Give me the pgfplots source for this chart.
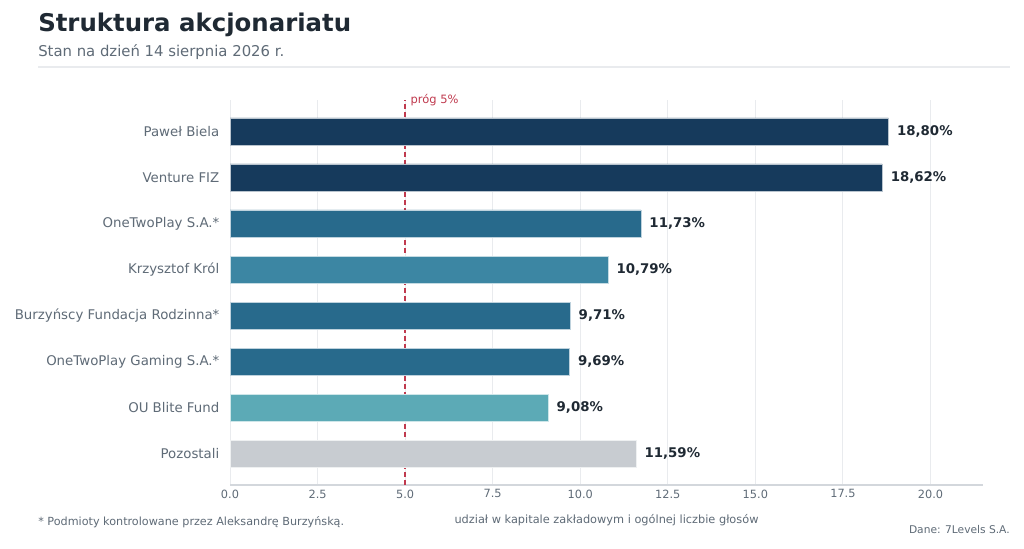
\documentclass[border=0pt]{standalone}
\usepackage{pgfplots}
\pgfplotsset{compat=1.18}
\usepackage{fontspec}
\setmainfont{DejaVu Sans}
\definecolor{navy}{HTML}{163A5C}
\definecolor{teal1}{HTML}{286A8C}
\definecolor{teal2}{HTML}{3C86A3}
\definecolor{teal3}{HTML}{5CAAB6}
\definecolor{grayb}{HTML}{C8CCD1}
\definecolor{txtdark}{HTML}{1F2933}
\definecolor{txtgray}{HTML}{5F6B77}
\definecolor{gridc}{HTML}{E9EBEE}
\definecolor{axc}{HTML}{D3D7DC}
\definecolor{redc}{HTML}{C03A4E}
\begin{document}
\begin{tikzpicture}
\begin{scope}[x=0.75pt,y=0.75pt]
\useasboundingbox[fill=white] (0,0) rectangle (1024,549);
\node[anchor=base west,inner sep=0pt,font=\fontsize{18.3}{20}\selectfont\bfseries,text=txtdark] at (38,517) {Struktura akcjonariatu};
\node[anchor=base west,inner sep=0pt,font=\fontsize{11.15}{13}\selectfont,text=txtgray] at (38,492) {Stan na dzień 14 sierpnia 2026 r.};
\draw[color=gridc,line width=1pt] (38,482) -- (1010,482);
\node[anchor=base west,inner sep=0pt,font=\fontsize{8.4}{10}\selectfont,text=txtgray] at (38,23) {* Podmioty kontrolowane przez Aleksandrę Burzyńską.};
\node[anchor=base east,inner sep=0pt,font=\fontsize{8}{10}\selectfont,text=txtgray] at (1010,15) {Dane: 7Levels S.A.};
\end{scope}
\begin{axis}[
  at={(172.5pt,48pt)}, anchor=south west,
  scale only axis, width=564.75pt, height=288.75pt,
  xmin=0, xmax=21.5, ymin=-0.68, ymax=7.68,
  xbar, bar shift=0pt, bar width=20.25pt,
  axis x line*=bottom, axis y line*=left,
  x axis line style={color=axc,line width=0.8pt,-},
  y axis line style={draw=none},
  xtick={0,2.5,...,20},
  xticklabel style={font=\fontsize{8.5}{10}\selectfont,text=txtgray,/pgf/number format/.cd,fixed,fixed zerofill,precision=1,assume math mode=true},
  major tick length=0pt,
  xmajorgrids, grid style={color=gridc,line width=0.7pt},
  ytick={0,...,7},
  yticklabels={Pozostali,OU Blite Fund,OneTwoPlay Gaming S.A.*,Burzyńscy Fundacja Rodzinna*,Krzysztof Król,OneTwoPlay S.A.*,Venture FIZ,Paweł Biela},
  yticklabel style={font=\fontsize{10}{12}\selectfont,text=txtgray,xshift=-4.5pt},
  ytick style={draw=none},
  xlabel={udział w kapitale zakładowym i ogólnej liczbie głosów},
  xlabel style={font=\fontsize{8.5}{10}\selectfont,text=txtgray,yshift=-5pt},
  nodes near coords={\pgfmathprintnumber[fixed,fixed zerofill,precision=2,use comma,assume math mode=true]{\pgfplotspointmeta}\%},
  nodes near coords style={font=\fontsize{10}{12}\selectfont\bfseries,text=txtdark,anchor=west,xshift=3pt},
  clip=false,
]
\draw[draw=redc,dash pattern=on 3.75pt off 2.25pt,line width=1pt] (axis cs:5,-0.68) -- (axis cs:5,7.68);
\addplot[fill=navy,draw=white!70!navy,line width=0.3pt] coordinates {(18.80,7) (18.62,6)};
\addplot[fill=teal1,draw=white!70!teal1,line width=0.3pt] coordinates {(11.73,5) (9.71,3) (9.69,2)};
\addplot[fill=teal2,draw=white!70!teal2,line width=0.3pt] coordinates {(10.79,4)};
\addplot[fill=teal3,draw=white!70!teal3,line width=0.3pt] coordinates {(9.08,1)};
\addplot[fill=grayb,draw=white!70!grayb,line width=0.3pt] coordinates {(11.59,0)};
\node[anchor=base west,inner sep=0pt,font=\fontsize{8.6}{10}\selectfont,text=redc] at (axis cs:5.15,7.6) {próg 5\%};
\end{axis}
\end{tikzpicture}
\end{document}
